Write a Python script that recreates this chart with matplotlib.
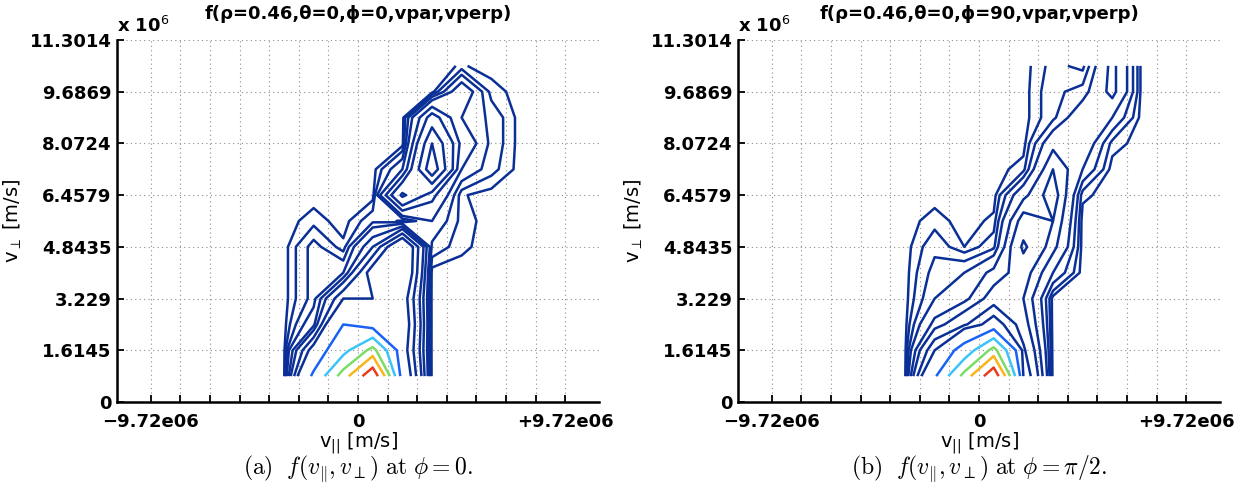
import numpy as np
import matplotlib
matplotlib.use("Agg")
from matplotlib import pyplot as plt

plt.rcParams['font.family'] = ['DejaVu Sans']

# grid of the distribution function (m/s)
vpar = [-4.86e6, -3.47e6, -2.08e6, -0.69e6, 0.69e6, 2.08e6, 3.47e6, 4.86e6, 6.25e6, 7.64e6]
vperp = [0.807e6, 1.614e6, 2.421e6, 3.229e6, 4.036e6, 4.843e6, 5.650e6,
         6.458e6, 7.265e6, 8.072e6, 8.879e6, 9.687e6, 10.494e6]

# f(vpar, vperp) at phi = 0, rows = vperp (bottom -> top), cols = vpar
f_phi0 = [
    [0, 0, 0.22, 0.57, 1.00, 0.14, 0, 0, 0, 0],
    [0, 0, 0.12, 0.30, 0.55, 0.12, 0, 0, 0, 0],
    [0, 0, 0.03, 0.20, 0.14, 0.13, 0, 0, 0, 0],
    [0, 0, 0.015, 0.10, 0.10, 0.12, 0, 0, 0, 0],
    [0, 0, 0.015, 0.02, 0.12, 0.15, 0, 0, 0, 0],
    [0, 0, 0.015, 0.003, 0.05, 0.15, 0.01, 0.003, 0, 0],
    [0, 0, 0.004, 0, 0.01, 0.005, 0.02, 0.004, 0, 0],
    [0, 0, 0, 0, 0, 0.08, 0.04, 0.0025, 0, 0],
    [0, 0, 0, 0, 0, 0.02, 0.12, 0.02, 0.008, 0],
    [0, 0, 0, 0, 0, 0, 0.10, 0.03, 0.01, 0],
    [0, 0, 0, 0, 0, 0, 0.06, 0.02, 0.01, 0],
    [0, 0, 0, 0, 0, 0, 0, 0.03, 0.004, 0],
    [0, 0, 0, 0, 0, 0, 0, 0.0025, 0, 0],
]

# f(vpar, vperp) at phi = pi/2
f_phi90 = [
    [0, 0, 0.18, 0.55, 1.00, 0.10, 0, 0, 0, 0],
    [0, 0, 0.10, 0.25, 0.55, 0.08, 0, 0, 0, 0],
    [0, 0, 0.04, 0.07, 0.12, 0.06, 0, 0, 0, 0],
    [0, 0, 0.02, 0.03, 0.06, 0.05, 0, 0, 0, 0],
    [0, 0, 0.015, 0.02, 0.04, 0.06, 0.02, 0, 0, 0],
    [0, 0, 0.01, 0.002, 0.01, 0.08, 0.04, 0, 0, 0],
    [0, 0, 0.004, 0, 0.003, 0.06, 0.05, 0, 0, 0],
    [0, 0, 0, 0, 0, 0.03, 0.06, 0.003, 0, 0],
    [0, 0, 0, 0, 0, 0.004, 0.05, 0.02, 0, 0],
    [0, 0, 0, 0, 0, 0, 0.03, 0.03, 0.004, 0],
    [0, 0, 0, 0, 0, 0, 0.01, 0.03, 0.02, 0],
    [0, 0, 0, 0, 0, 0, 0.01, 0.015, 0.04, 0],
    [0, 0, 0, 0, 0, 0, 0.008, 0.004, 0.04, 0],
]

levels = [0.002, 0.006, 0.012, 0.02, 0.035, 0.05, 0.075, 0.1,
          0.2, 0.35, 0.5, 0.65, 0.85]
level_colors = ['#0a2f96'] * 8 + ['#1a62f4', '#3cc4f8', '#7cdc68', '#f8b41c', '#e83c1c']

vmax = 11.3014e6
yticks = [0, 1.6145e6, 3.229e6, 4.8435e6, 6.4579e6, 8.0724e6, 9.6869e6, 11.3014e6]
ylabels = ['0', '1.6145', '3.229', '4.8435', '6.4579', '8.0724', '9.6869', '11.3014']
xticks = np.linspace(-9.72e6, 9.72e6, 15)
xlabels = ['\u22129.72e06'] + [''] * 6 + ['0'] + [''] * 6 + ['+9.72e06']

titles = ['f(\u03c1=0.46,\u03b8=0,\u03d5=0,vpar,vperp)', 'f(\u03c1=0.46,\u03b8=0,\u03d5=90,vpar,vperp)']
captions = [r'$\mathrm{(a)}\ \ f(v_{\|}, v_{\perp})\ \mathrm{at}\ \phi = 0.$',
            r'$\mathrm{(b)}\ \ f(v_{\|}, v_{\perp})\ \mathrm{at}\ \phi = \pi/2.$']

fig = plt.figure(figsize=(12.44, 5.0), dpi=100)
lefts = [117 / 1244, 738 / 1244]
X, Y = np.meshgrid(vpar, vperp)

for i, f in enumerate([f_phi0, f_phi90]):
    ax = fig.add_axes([lefts[i], 98 / 500, 482 / 1244, 362 / 500])
    ax.contour(X, Y, np.array(f), levels=levels, colors=level_colors, linewidths=1.8)
    ax.set_xlim(-vmax, vmax)
    ax.set_ylim(0, vmax)
    ax.set_xticks(xticks)
    ax.set_xticklabels(xlabels)
    ax.set_yticks(yticks)
    ax.set_yticklabels(ylabels)
    for lab in ax.get_xticklabels() + ax.get_yticklabels():
        lab.set_fontweight('bold')
        lab.set_fontsize(13)
    ax.tick_params(direction='in', length=5, width=1.3)
    ax.tick_params(axis='x', pad=8)
    ax.tick_params(axis='y', pad=4)
    ax.spines['top'].set_visible(False)
    ax.spines['right'].set_visible(False)
    ax.spines['left'].set_linewidth(1.8)
    ax.spines['bottom'].set_linewidth(1.8)
    ax.grid(True, linestyle=(0, (1, 3)), color='0.55', linewidth=0.8)
    ax.set_axisbelow(True)
    ax.set_xlabel('v$_{||}$ [m/s]', fontsize=14, labelpad=-1)
    ax.set_ylabel('v$_{\\perp}$ [m/s]', fontsize=14, labelpad=4)
    ax.set_title(titles[i], fontsize=13, fontweight='bold', pad=15)
    ax.text(0, 1.012, 'x 10$^{6}$', transform=ax.transAxes, fontsize=13,
            fontweight='bold', ha='left', va='bottom')
    fig.text(lefts[i] + 241 / 1244, 0.062, captions[i], fontsize=17,
             math_fontfamily='cm', ha='center', va='center')

fig.savefig('out.png', dpi=100)
